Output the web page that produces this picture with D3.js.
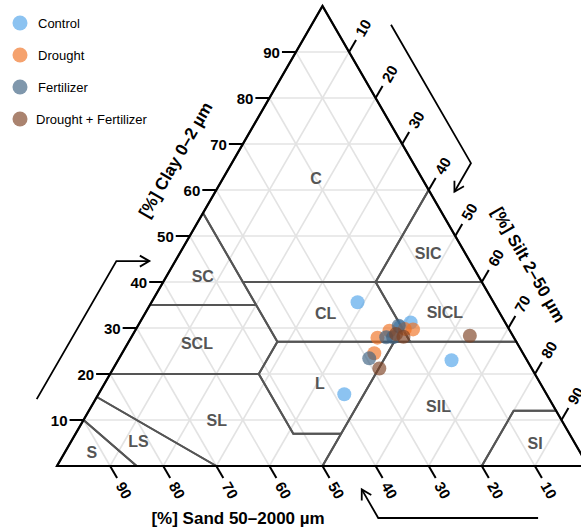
<!DOCTYPE html>
<html>
<head>
<meta charset="utf-8">
<script src="https://cdn.jsdelivr.net/npm/d3@7"></script>
<style>
  body { margin: 0; background: #fff; }
  text { font-family: "Liberation Sans", Arial, Helvetica, sans-serif; }
</style>
</head>
<body>
<svg id="chart" width="581" height="529"></svg>
<script>
// samples as [sand, silt, clay] in %
const control = [[25.6, 38.8, 35.6], [38.1, 46.3, 15.6], [14.2, 62.8, 23.0], [17.8, 51.0, 31.2], [20.3, 49.5, 30.2]]
const drought = [[25.7, 46.4, 27.9], [22.7, 47.9, 29.4], [18.1, 52.2, 29.7], [28.0, 47.5, 24.5], [19.6, 50.6, 29.8]]
const fertilizer = [[20.4, 49.1, 30.5], [29.5, 47.1, 23.4], [22.7, 49.3, 28.0], [24.0, 48.0, 28.0]]
const droughtFert = [[8.1, 63.6, 28.3], [28.7, 50.1, 21.2], [20.7, 51.2, 28.1], [21.8, 49.5, 28.7]]

const groupNames = ['Control', 'Drought', 'Fertilizer', 'Drought + Fertilizer']
const groupColors = ['#4fa3ea', '#f07020', '#3a5f80', '#7c4022']
const ticks = [10, 20, 30, 40, 50, 60, 70, 80, 90]

// USDA texture classes: name, label spot, polygon (sand, silt, clay)
const classes = [
  { name: 'C', at: [19.9, 17.5, 62.6], poly: [[0, 0, 100], [45, 0, 55], [45, 15, 40], [20, 40, 40], [0, 40, 60]] },
  { name: 'SIC', at: [7.0, 46.8, 46.2], poly: [[0, 40, 60], [20, 40, 40], [0, 60, 40]] },
  { name: 'SC', at: [51.9, 6.8, 41.3], poly: [[45, 0, 55], [65, 0, 35], [45, 20, 35]] },
  { name: 'CL', at: [32.8, 34.0, 33.2], poly: [[45, 15, 40], [20, 40, 40], [20, 53, 27], [45, 28, 27]] },
  { name: 'SICL', at: [10.3, 56.4, 33.3], poly: [[20, 40, 40], [0, 60, 40], [0, 73, 27], [20, 53, 27]] },
  { name: 'SCL', at: [60.3, 13.0, 26.7], poly: [[45, 20, 35], [65, 0, 35], [80, 0, 20], [52, 28, 20], [45, 28, 27]] },
  { name: 'L', at: [41.5, 40.5, 18.0], poly: [[45, 28, 27], [23, 50, 27], [43, 50, 7], [52, 41, 7], [52, 28, 20]] },
  { name: 'SIL', at: [21.7, 65.4, 12.9], poly: [[23, 50, 27], [0, 73, 27], [0, 88, 12], [8, 80, 12], [20, 80, 0], [50, 50, 0], [43, 50, 7]] },
  { name: 'SL', at: [64.9, 25.1, 10.0], poly: [[80, 0, 20], [52, 28, 20], [52, 41, 7], [43, 50, 7], [50, 50, 0], [70, 30, 0], [85, 0, 15]] },
  { name: 'LS', at: [82.0, 12.7, 5.3], poly: [[85, 0, 15], [70, 30, 0], [85, 15, 0], [90, 0, 10]] },
  { name: 'S', at: [92.0, 5.1, 2.9], poly: [[100, 0, 0], [90, 0, 10], [85, 15, 0]] },
  { name: 'SI', at: [7.5, 87.6, 4.9], poly: [[0, 100, 0], [20, 80, 0], [8, 80, 12], [0, 88, 12]] }
]

const svg = d3.select('#chart')

// x runs along silt + clay/2, y along clay
const xScale = d3.scaleLinear().domain([0, 100]).range([57, 588])
const yScale = d3.scaleLinear().domain([0, 100]).range([466, 6])
const proj = (sand, silt, clay) => {
  const t = sand + silt + clay
  return [xScale((silt + clay / 2) * 100 / t), yScale(clay * 100 / t)]
}
const s3 = Math.sqrt(3) / 2
const add = (p, d, k) => [p[0] + d[0] * k, p[1] + d[1] * k]
const nLeft = [-s3, -0.5], nRight = [s3, -0.5], nBottom = [0, 1]

// grid
let grid = svg.append('g').attr('stroke', '#e3e3e3').attr('stroke-width', 1.6)
ticks.forEach(v => {
  const segs = [
    [proj(100 - v, 0, v), proj(0, 100 - v, v)],
    [proj(100 - v, v, 0), proj(0, v, 100 - v)],
    [proj(v, 100 - v, 0), proj(v, 0, 100 - v)]
  ]
  segs.forEach(s => {
    grid.append('line')
      .attr('x1', s[0][0]).attr('y1', s[0][1])
      .attr('x2', s[1][0]).attr('y2', s[1][1])
  })
})

// class boundaries
let line = d3.line()
svg.append('g').selectAll('path')
  .data(classes)
  .join('path')
  .attr('d', d => line(d.poly.map(p => proj(...p))) + 'Z')
  .attr('fill', 'none')
  .attr('stroke', '#555')
  .attr('stroke-width', 2)
  .attr('stroke-linejoin', 'round')

svg.append('g').selectAll('text')
  .data(classes)
  .join('text')
  .attr('x', d => proj(...d.at)[0])
  .attr('y', d => proj(...d.at)[1])
  .attr('text-anchor', 'middle')
  .attr('dominant-baseline', 'central')
  .style('font-size', '16px')
  .style('font-weight', 'bold')
  .style('fill', '#555')
  .text(d => d.name)

// triangle frame
svg.append('path')
  .attr('d', line([proj(100, 0, 0), proj(0, 100, 0), proj(0, 0, 100)]) + 'Z')
  .attr('fill', 'none')
  .attr('stroke', '#000')
  .attr('stroke-width', 2.2)
  .attr('stroke-linejoin', 'miter')

// axes ticks + labels
let axes = svg.append('g')
const tickDefs = [
  { at: v => proj(100 - v, 0, v), dir: [-1, 0], rot: 0 },
  { at: v => proj(0, v, 100 - v), dir: [0.5, -s3], rot: -60 },
  { at: v => proj(v, 100 - v, 0), dir: [0.5, s3], rot: 60 }
]
tickDefs.forEach((a, k) => {
  ticks.forEach(v => {
    const p = a.at(v)
    const e = add(p, a.dir, 14)
    axes.append('line')
      .attr('x1', p[0]).attr('y1', p[1])
      .attr('x2', e[0]).attr('y2', e[1])
      .attr('stroke', '#000').attr('stroke-width', 2)
    if (k === 0) {
      axes.append('text')
        .attr('x', e[0] - 2).attr('y', e[1])
        .attr('text-anchor', 'end')
        .attr('dominant-baseline', 'central')
        .style('font-size', '15px').style('font-weight', 'bold')
        .text(v)
    } else {
      const l = add(p, a.dir, 28)
      axes.append('text')
        .attr('transform', 'translate(' + l[0] + ',' + l[1] + ') rotate(' + a.rot + ')')
        .attr('text-anchor', 'middle')
        .attr('dominant-baseline', 'central')
        .style('font-size', '15px').style('font-weight', 'bold')
        .text(v)
    }
  })
})

// axis titles
const titles = [
  { text: '[%] Clay 0\u20132 \u00b5m', p: add(proj(38.9, 0, 61.1), nLeft, 50), rot: -60 },
  { text: '[%] Silt 2\u201350 \u00b5m', p: add(proj(0, 61.6, 38.4), nRight, 49), rot: 60 },
  { text: '[%] Sand 50\u20132000 \u00b5m', p: add(proj(65.9, 34.1, 0), nBottom, 52), rot: 0 }
]
svg.append('g').selectAll('text')
  .data(titles)
  .join('text')
  .attr('transform', d => 'translate(' + d.p[0] + ',' + d.p[1] + ') rotate(' + d.rot + ')')
  .attr('text-anchor', 'middle')
  .attr('dominant-baseline', 'central')
  .style('font-size', '17px')
  .style('font-weight', 'bold')
  .text(d => d.text)

// direction arrows
const arrows = [
  { a: add(proj(91, 0, 9), nLeft, 51), b: add(proj(61, 0, 39), nLeft, 51), turn: [1, 0] },
  { a: add(proj(0, 9.5, 90.5), nRight, 50), b: add(proj(0, 39.6, 60.4), nRight, 50), turn: [-0.5, s3] },
  { a: add(proj(9.4, 90.6, 0), nBottom, 52), b: add(proj(39.5, 60.5, 0), nBottom, 52), turn: [-0.5, -s3] }
]
let arr = svg.append('g').attr('fill', 'none').attr('stroke', '#000').attr('stroke-width', 1.8)
arrows.forEach(d => {
  const c = add(d.b, d.turn, 33)
  arr.append('path').attr('d', line([d.a, d.b, c]))
  const ang = Math.atan2(d.turn[1], d.turn[0])
  const w1 = [c[0] - 11 * Math.cos(ang - Math.PI / 6), c[1] - 11 * Math.sin(ang - Math.PI / 6)]
  const w2 = [c[0] - 11 * Math.cos(ang + Math.PI / 6), c[1] - 11 * Math.sin(ang + Math.PI / 6)]
  arr.append('path').attr('d', line([w1, c, w2]))
})

// points
const groups = [control, drought, fertilizer, droughtFert]
groups.forEach((g, i) => {
  svg.append('g').selectAll('circle')
    .data(g)
    .join('circle')
    .attr('cx', d => proj(...d)[0])
    .attr('cy', d => proj(...d)[1])
    .attr('r', 7)
    .attr('fill', groupColors[i])
    .attr('fill-opacity', 0.65)
})

// legend
let legend = svg.append('g')
groupNames.forEach((n, i) => {
  const y = 23 + i * 32
  legend.append('circle')
    .attr('cx', 20).attr('cy', y).attr('r', 7.5)
    .attr('fill', groupColors[i]).attr('fill-opacity', 0.65)
  legend.append('text')
    .attr('x', i === 3 ? 36 : 38).attr('y', y)
    .attr('dominant-baseline', 'central')
    .style('font-size', '13px')
    .text(n)
})
</script>
</body>
</html>
